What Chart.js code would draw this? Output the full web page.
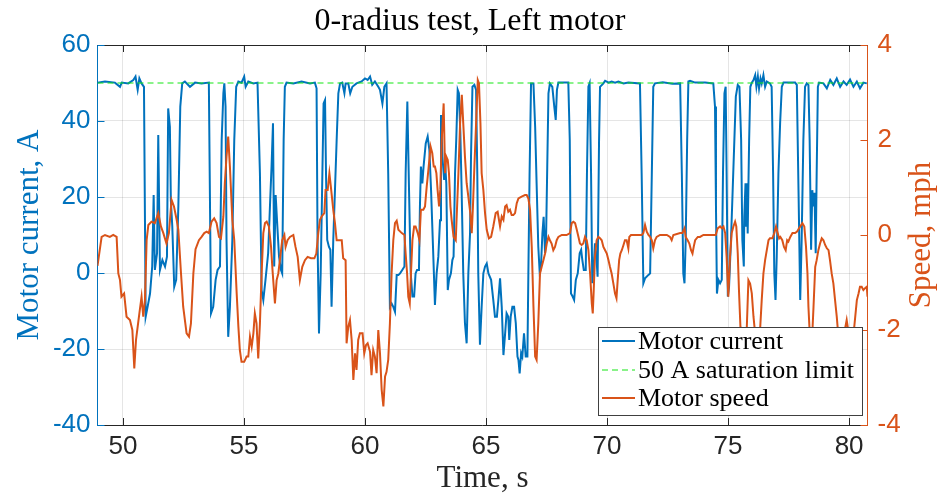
<!DOCTYPE html>
<html lang="en">
<head>
<meta charset="UTF-8">
<title>0-radius test, Left motor</title>
<script src="https://cdn.jsdelivr.net/npm/chart.js"></script>
<style>
  body { margin: 0; background: #fff; }
  canvas { display: block; }
</style>
</head>
<body>
<canvas id="grafico" width="940" height="497"></canvas>
<script>
// tick labels
const xTicks = [50, 55, 60, 65, 70, 75, 80];
const currentTicks = [-40, -20, 0, 20, 40, 60];
const speedTicks = [-4, -2, 0, 2, 4];

// 50 A saturation limit
const limitTime = [48.95, 80.76];
const limitLevel = [50, 50];

// motor current, A
const currentTime = [
  48.95, 49.26, 49.67, 49.88, 49.95, 50.22, 50.43, 50.52, 50.61, 50.68, 50.77, 50.87, 50.94, 51.02, 51.12, 51.21,
  51.27, 51.32, 51.41, 51.46, 51.53, 51.63, 51.74, 51.82, 51.87, 51.94, 51.98, 52.04, 52.12, 52.20, 52.29, 52.37,
  52.45, 52.56, 52.77, 52.98, 53.25, 53.55, 53.64, 53.73, 53.83, 53.91, 54.01, 54.08, 54.15, 54.19, 54.24, 54.28,
  54.35, 54.42, 54.52, 54.60, 54.68, 54.77, 54.90, 55.01, 55.07, 55.18, 55.39, 55.56, 55.66, 55.73, 55.80, 55.89,
  56.00, 56.09, 56.14, 56.20, 56.25, 56.31, 56.38, 56.45, 56.53, 56.58, 56.64, 56.69, 56.76, 57.04, 57.38, 57.73,
  57.93, 58.00, 58.04, 58.10, 58.17, 58.24, 58.29, 58.35, 58.39, 58.44, 58.51, 58.57, 58.62, 58.69, 58.76, 58.83,
  58.90, 58.97, 59.06, 59.15, 59.20, 59.31, 59.39, 59.48, 59.65, 59.86, 60.00, 60.11, 60.21, 60.30, 60.41, 60.55,
  60.62, 60.72, 60.80, 60.89, 60.96, 61.03, 61.10, 61.17, 61.24, 61.31, 61.38, 61.45, 61.54, 61.63, 61.68, 61.75,
  61.82, 61.89, 61.96, 62.03, 62.09, 62.15, 62.23, 62.27, 62.31, 62.37, 62.42, 62.51, 62.59, 62.66, 62.73, 62.81,
  62.89, 62.96, 63.03, 63.10, 63.14, 63.20, 63.27, 63.31, 63.36, 63.42, 63.47, 63.55, 63.61, 63.66, 63.72, 63.77,
  63.83, 63.88, 63.94, 63.99, 64.06, 64.13, 64.20, 64.27, 64.34, 64.38, 64.44, 64.52, 64.59, 64.64, 64.68, 64.75,
  64.82, 64.89, 64.96, 65.03, 65.10, 65.21, 65.30, 65.37, 65.45, 65.51, 65.58, 65.65, 65.72, 65.79, 65.85, 65.92,
  65.96, 66.02, 66.09, 66.16, 66.23, 66.30, 66.34, 66.39, 66.45, 66.50, 66.57, 66.64, 66.71, 66.75, 66.80, 66.86,
  66.96, 67.03, 67.09, 67.16, 67.22, 67.27, 67.33, 67.38, 67.44, 67.48, 67.53, 67.58, 67.64, 67.74, 67.82, 67.88,
  67.93, 67.99, 68.40, 68.46, 68.51, 68.58, 68.64, 68.71, 68.79, 68.87, 68.93, 68.98, 69.04, 69.12, 69.17, 69.23,
  69.28, 69.34, 69.39, 69.45, 69.50, 69.56, 69.61, 69.67, 69.71, 69.85, 69.92, 70.06, 70.19, 70.33, 70.47, 70.68,
  70.88, 71.36, 71.43, 71.50, 71.57, 71.71, 71.78, 71.85, 71.91, 71.98, 72.30, 72.70, 73.02, 73.09, 73.15, 73.20,
  73.25, 73.31, 73.36, 73.43, 73.64, 74.05, 74.39, 74.46, 74.50, 74.54, 74.60, 74.67, 74.74, 74.79, 74.85, 74.90,
  74.94, 74.99, 75.04, 75.12, 75.19, 75.26, 75.32, 75.40, 75.47, 75.54, 75.59, 75.65, 75.67, 75.72, 75.74, 75.78,
  75.81, 75.87, 75.92, 75.98, 76.05, 76.12, 76.17, 76.23, 76.28, 76.34, 76.39, 76.46, 76.53, 76.60, 76.73, 76.80,
  76.86, 76.91, 76.96, 77.01, 77.08, 77.15, 77.22, 77.29, 77.77, 77.84, 77.91, 77.98, 78.04, 78.11, 78.18, 78.25,
  78.32, 78.37, 78.43, 78.48, 78.53, 78.57, 78.62, 78.66, 78.71, 78.76, 78.94, 79.08, 79.22, 79.35, 79.49, 79.63,
  79.77, 79.90, 80.04, 80.18, 80.32, 80.45, 80.59, 80.73
];
const current = [
  50.1, 50.4, 50.1, 49.0, 50.1, 49.9, 50.8, 51.7, 48.2, 51.2, 49.9, 49.0, -11.5, -8.9, -5.4, 1.7,
  20.5, 0.8, 5.2, 36.3, 0.8, 3.4, 1.7, 4.3, 43.3, 38.5, 19.2, 12.2, -3.6, -1.8, 17.5, 43.8,
  49.9, 50.4, 49.0, 50.1, 49.9, 50.1, -10.6, -8.9, -1.8, 0.8, 1.7, 35.0, 47.3, 49.9, 43.8, 8.7,
  -16.8, -8.9, 8.7, 35.0, 49.0, 50.4, 50.1, 51.7, 49.0, 50.4, 49.9, 50.1, 26.2, -4.5, -7.1, -1.8,
  5.2, 20.1, 28.0, 39.4, 1.7, 20.5, 12.2, 4.3, 0.8, -0.1, 35.0, 49.0, 50.1, 49.9, 50.4, 49.9,
  50.1, 48.6, 8.7, -15.9, -0.1, 26.2, 44.6, 45.5, 26.2, 8.7, 6.9, 6.1, -8.9, 8.7, 21.8, 35.0,
  47.3, 49.9, 50.1, 47.3, 49.9, 49.9, 47.3, 49.0, 49.9, 50.4, 51.2, 50.8, 51.7, 49.5, 50.4, 49.0,
  48.2, 44.6, 49.0, 49.9, 26.2, -8.9, -8.0, -8.9, -10.2, -0.5, -0.5, -0.1, 0.8, 1.7, 26.2, 45.1,
  21.8, -0.1, -6.2, -6.2, -0.1, 0.8, 0.8, 17.5, 28.0, 23.6, 28.0, 34.1, 35.9, 32.4, 21.8, 6.9,
  -8.4, -0.1, 4.3, 13.9, 41.6, 30.6, 24.5, 28.9, 23.6, -4.5, -1.8, -0.1, 3.4, 4.3, 26.2, 35.0,
  48.2, 47.3, 36.8, 22.7, -0.1, -13.2, -18.5, -0.1, 10.4, 30.6, 49.0, 49.5, 48.2, 26.2, -0.1, -18.9,
  -8.9, -0.1, 1.7, 2.5, -0.1, -1.8, -7.1, -11.5, -11.5, -7.1, -1.4, -8.9, -21.6, -15.9, -10.6, -11.5,
  -17.6, -11.5, -8.9, -8.9, -13.2, -22.0, -22.9, -26.4, -21.1, -22.0, -15.9, -22.0, -22.0, -0.1, 26.2, 49.9,
  49.9, 38.5, 23.6, 6.9, -0.1, 1.7, 10.4, 14.8, 5.2, 8.7, 28.0, 47.3, 49.9, 49.0, 43.8, 40.3,
  48.2, 50.1, 50.1, 35.0, -5.4, -6.2, -7.1, -1.8, -0.1, 5.2, 6.1, 3.4, 0.8, 0.8, 26.2, 49.0,
  49.9, 26.2, -2.7, 1.7, 7.8, 4.3, -1.0, 35.0, 49.0, 49.9, 50.6, 50.1, 50.4, 50.1, 50.4, 49.9,
  50.1, 49.9, 26.2, -2.7, -1.4, -0.5, -0.1, 26.2, 49.0, 49.9, 50.2, 49.8, 49.9, 26.2, -0.1, -2.7,
  8.7, 35.0, 50.4, 50.6, 50.1, 50.1, 49.9, 43.8, 17.5, -5.4, -1.8, -2.7, -1.8, 26.2, 47.3, 49.0,
  26.2, -6.2, -3.6, 8.7, 21.8, 35.0, 46.4, 49.5, 49.0, 35.0, 8.7, 1.7, 14.8, 23.6, 12.2, 23.6,
  10.4, 35.0, 49.0, 50.1, 50.8, 52.1, 49.0, 51.7, 48.6, 51.2, 49.9, 52.1, 49.0, 50.4, 49.9, 49.0,
  26.2, -0.1, -7.1, 4.3, 26.2, 39.4, 49.0, 50.1, 50.1, 49.5, 21.8, -7.1, 8.7, 35.0, 49.0, 49.9,
  49.5, 35.0, 6.1, 21.8, 17.5, 21.1, 5.2, 26.2, 49.0, 50.1, 49.9, 48.6, 50.8, 49.5, 51.2, 49.0,
  50.4, 49.5, 50.9, 49.0, 50.4, 48.6, 50.1, 49.9
];

// motor speed, mph
const speedTime = [
  48.95, 49.12, 49.26, 49.46, 49.60, 49.74, 49.81, 49.88, 49.94, 50.05, 50.15, 50.29, 50.39, 50.47, 50.54, 50.61,
  50.68, 50.77, 50.84, 50.91, 50.98, 51.05, 51.18, 51.32, 51.46, 51.57, 51.67, 51.80, 51.90, 52.01, 52.11, 52.22,
  52.29, 52.40, 52.49, 52.63, 52.73, 52.81, 52.91, 53.00, 53.14, 53.25, 53.36, 53.46, 53.55, 53.66, 53.77, 53.87,
  53.97, 54.05, 54.15, 54.21, 54.28, 54.35, 54.42, 54.52, 54.60, 54.70, 54.77, 54.83, 54.90, 55.01, 55.11, 55.18,
  55.25, 55.32, 55.39, 55.45, 55.52, 55.59, 55.66, 55.73, 55.80, 55.87, 55.94, 56.03, 56.12, 56.18, 56.28, 56.35,
  56.42, 56.50, 56.58, 56.67, 56.72, 56.80, 56.90, 57.04, 57.13, 57.22, 57.31, 57.41, 57.52, 57.63, 57.77, 57.91,
  57.99, 58.07, 58.14, 58.21, 58.32, 58.37, 58.46, 58.53, 58.59, 58.69, 58.76, 58.83, 59.04, 59.10, 59.20, 59.24,
  59.31, 59.38, 59.45, 59.52, 59.59, 59.65, 59.72, 59.79, 59.90, 59.97, 60.04, 60.11, 60.21, 60.27, 60.34, 60.41,
  60.48, 60.55, 60.62, 60.69, 60.76, 60.83, 60.89, 60.96, 61.03, 61.10, 61.17, 61.24, 61.31, 61.38, 61.52, 61.63,
  61.68, 61.74, 61.79, 61.85, 61.90, 61.96, 62.03, 62.09, 62.18, 62.25, 62.31, 62.41, 62.48, 62.55, 62.62, 62.71,
  62.78, 62.84, 62.89, 62.95, 63.00, 63.06, 63.11, 63.17, 63.25, 63.31, 63.36, 63.42, 63.47, 63.53, 63.58, 63.66,
  63.75, 63.80, 63.86, 63.93, 64.00, 64.06, 64.13, 64.20, 64.27, 64.35, 64.41, 64.46, 64.52, 64.59, 64.66, 64.71,
  64.77, 64.82, 64.89, 64.96, 65.03, 65.12, 65.21, 65.30, 65.40, 65.48, 65.58, 65.65, 65.72, 65.79, 65.85, 65.92,
  65.99, 66.06, 66.13, 66.20, 66.27, 66.34, 66.47, 66.61, 66.68, 66.75, 66.82, 66.89, 66.96, 67.03, 67.09, 67.16,
  67.23, 67.30, 67.37, 67.44, 67.51, 67.58, 67.64, 67.71, 67.78, 67.85, 67.92, 67.99, 68.13, 68.33, 68.47, 68.54,
  68.61, 68.68, 68.75, 68.82, 68.88, 68.95, 69.02, 69.09, 69.16, 69.23, 69.30, 69.37, 69.41, 69.45, 69.50, 69.57,
  69.64, 69.71, 69.78, 69.85, 69.92, 69.99, 70.06, 70.12, 70.19, 70.26, 70.33, 70.39, 70.44, 70.50, 70.55, 70.61,
  70.68, 70.74, 70.81, 70.88, 70.92, 70.99, 71.23, 71.43, 71.50, 71.57, 71.64, 71.71, 71.78, 71.85, 71.91, 71.98,
  72.05, 72.19, 72.47, 72.60, 72.67, 72.74, 73.02, 73.11, 73.20, 73.25, 73.33, 73.40, 73.47, 73.53, 73.58, 73.64,
  73.75, 73.84, 73.98, 74.19, 74.39, 74.49, 74.57, 74.67, 74.74, 74.81, 74.88, 74.94, 75.01, 75.08, 75.15, 75.22,
  75.29, 75.34, 75.40, 75.45, 75.51, 75.58, 75.70, 75.77, 75.84, 75.91, 75.98, 76.05, 76.09, 76.18, 76.30, 76.39,
  76.46, 76.53, 76.60, 76.67, 76.73, 76.83, 76.91, 76.98, 77.05, 77.11, 77.16, 77.24, 77.31, 77.38, 77.44, 77.49,
  77.57, 77.66, 77.77, 77.85, 77.93, 77.98, 78.07, 78.15, 78.22, 78.28, 78.32, 78.36, 78.40, 78.46, 78.53, 78.60,
  78.66, 78.73, 78.80, 78.87, 78.94, 79.01, 79.08, 79.15, 79.21, 79.28, 79.35, 79.42, 79.49, 79.60, 79.75, 79.90,
  80.05, 80.20, 80.32, 80.39, 80.45, 80.52, 80.59, 80.66, 80.73, 80.76
];
const speed = [
  -0.65, -0.04, 0.00, -0.04, 0.00, -0.04, -0.81, -0.95, -1.30, -1.23, -1.72, -1.79, -2.00, -2.81, -2.21, -1.93,
  -1.65, -1.30, -1.72, -1.37, -0.11, 0.21, 0.28, 0.25, 0.46, 0.18, 0.04, -0.18, 0.04, 0.74, 0.60, 0.32,
  0.11, -0.81, -1.51, -2.07, -2.14, -1.86, -0.81, -0.30, -0.11, -0.04, 0.04, 0.07, 0.04, 0.28, 0.35, 0.25,
  -0.04, -0.07, 0.39, 1.09, 1.65, 2.07, 1.44, 0.32, -0.11, -1.23, -1.93, -2.42, -2.67, -2.67, -2.56, -2.56,
  -2.14, -2.35, -2.07, -1.65, -1.86, -2.60, -1.86, -0.81, 0.04, 0.25, 0.28, 0.18, -0.25, -0.74, -1.44, -0.95,
  -0.81, -0.46, -0.11, 0.00, -0.25, -0.11, -0.04, 0.00, -0.25, -0.46, -0.95, -0.67, -0.53, -0.46, -0.49, -0.49,
  -0.39, 0.04, 0.32, 0.39, 0.46, 0.95, 0.95, 1.30, 1.02, 0.53, 0.25, -0.11, -0.11, -0.49, -0.53, -2.28,
  -1.93, -1.79, -2.21, -3.05, -2.49, -2.84, -2.21, -2.07, -2.07, -2.49, -2.32, -2.28, -2.46, -2.95, -2.42, -2.56,
  -2.91, -2.00, -2.49, -3.26, -3.61, -2.98, -2.88, -2.63, -1.86, -0.81, -0.11, 0.25, 0.30, 0.11, 0.04, 0.00,
  -0.39, -0.81, -1.30, -1.44, -0.81, -0.11, 0.18, 0.18, 0.04, -0.11, 0.53, 0.53, 0.60, 1.02, 1.37, 1.86,
  1.72, 1.44, 1.44, 1.30, 0.95, 0.60, 0.95, 2.00, 2.77, 1.30, 1.65, 1.58, 1.30, 0.60, 0.32, -0.04,
  -0.11, 0.53, 1.30, 2.35, 2.95, 2.35, 1.65, 1.09, 0.81, 0.46, 0.04, 0.60, 1.44, 2.35, 3.26, 3.19,
  2.35, 1.30, 0.95, 0.46, 0.11, -0.07, -0.04, 0.18, 0.46, 0.49, 0.18, 0.39, 0.32, 0.60, 0.63, 0.49,
  0.53, 0.42, 0.42, 0.46, 0.67, 0.77, 0.81, 0.84, 0.84, 0.77, 0.53, -0.25, -1.51, -2.56, -2.63, -1.86,
  -0.81, -0.67, -0.53, -0.39, -0.18, -0.04, -0.11, -0.18, -0.32, -0.25, -0.11, -0.04, 0.00, 0.00, 0.04, 0.25,
  0.28, 0.25, 0.11, -0.04, -0.18, -0.21, -0.18, -0.04, -0.11, -0.32, -0.81, -1.44, -1.65, -1.16, -0.46, -0.11,
  -0.04, -0.07, -0.11, -0.25, -0.32, -0.39, -0.53, -0.67, -0.81, -1.02, -1.23, -1.33, -0.95, -0.53, -0.39, -0.32,
  -0.21, -0.11, -0.11, -0.28, -0.04, 0.00, 0.00, 0.00, 0.04, 0.21, 0.07, 0.00, -0.04, -0.11, -0.28, -0.11,
  -0.04, 0.00, 0.00, -0.04, -0.11, 0.00, 0.04, 0.04, 0.14, -0.04, -0.11, -0.18, -0.32, -0.39, -0.25, -0.11,
  -0.04, -0.04, 0.00, 0.00, 0.00, 0.00, 0.14, 0.18, 0.14, 0.18, 0.04, -0.46, -1.30, -0.46, 0.04, 0.18,
  0.28, 0.18, -0.39, -1.16, -1.93, -2.50, -2.30, -2.00, -0.95, -1.02, -1.23, -1.72, -1.93, -2.40, -2.20, -1.37,
  -0.81, -0.53, -0.32, -0.11, -0.07, -0.07, 0.04, 0.18, 0.04, -0.07, -0.04, -0.11, -0.25, -0.32, -0.11, -0.14,
  -0.04, 0.04, 0.04, 0.07, 0.14, 0.18, 0.25, 0.18, -0.25, -0.81, -1.51, -1.93, -2.50, -2.30, -1.51, -0.67,
  -0.53, -0.32, -0.18, -0.07, -0.11, -0.21, -0.28, -0.32, -0.53, -0.81, -1.02, -1.37, -1.72, -2.40, -2.20, -1.79,
  -2.30, -2.00, -1.37, -1.23, -1.09, -1.09, -1.16, -1.12, -1.09, -1.30
];

const azul = '#0072BD';
const laranja = '#D95319';
const cinza = '#262626';
const serif = '"Liberation Serif", "Times New Roman", serif';
const sans = '"Liberation Sans", Arial, sans-serif';

function pares(xs, ys) {
  return xs.map((x, i) => ({ x: x, y: ys[i] }));
}
function fixarTicks(valores) {
  return function(scale) {
    scale.ticks = valores.map(v => ({ value: v }));
  };
}

// box, inward tick marks, right axis title and legend
const extras = {
  id: 'extras',
  afterDatasetsDraw(chart) {
    const ctx = chart.ctx;
    const a = chart.chartArea;
    const sx = chart.scales.x, sy = chart.scales.y, sy1 = chart.scales.y1;
    ctx.save();
    ctx.lineWidth = 1;
    // top edge of the box
    ctx.strokeStyle = cinza;
    ctx.beginPath();
    ctx.moveTo(a.left, a.top + 0.5);
    ctx.lineTo(a.right, a.top + 0.5);
    ctx.stroke();
    // x ticks inward, bottom and top
    xTicks.forEach(v => {
      const px = Math.round(sx.getPixelForValue(v)) + 0.5;
      ctx.beginPath();
      ctx.moveTo(px, a.bottom); ctx.lineTo(px, a.bottom - 7);
      ctx.moveTo(px, a.top); ctx.lineTo(px, a.top + 7);
      ctx.stroke();
    });
    ctx.strokeStyle = azul;
    currentTicks.forEach(v => {
      const py = Math.round(sy.getPixelForValue(v)) + 0.5;
      ctx.beginPath();
      ctx.moveTo(a.left, py); ctx.lineTo(a.left + 7, py);
      ctx.stroke();
    });
    ctx.strokeStyle = laranja;
    speedTicks.forEach(v => {
      const py = Math.round(sy1.getPixelForValue(v)) + 0.5;
      ctx.beginPath();
      ctx.moveTo(a.right, py); ctx.lineTo(a.right - 7, py);
      ctx.stroke();
    });

    // right axis title, reading bottom to top
    ctx.fillStyle = laranja;
    ctx.font = '31px ' + serif;
    ctx.textAlign = 'center';
    ctx.textBaseline = 'middle';
    ctx.translate(922, (a.top + a.bottom) / 2);
    ctx.rotate(-Math.PI / 2);
    ctx.fillText('Speed, mph', 0, 0);
    ctx.restore();

    // legend inside the lower right corner
    const w = 264, h = 88;
    const x0 = a.right - 5.5 - w, y0 = a.bottom - 10 - h;
    ctx.save();
    ctx.fillStyle = '#fff';
    ctx.fillRect(x0, y0, w, h);
    ctx.strokeStyle = '#404040';
    ctx.lineWidth = 1;
    ctx.strokeRect(Math.round(x0) + 0.5, Math.round(y0) + 0.5, w, h);
    const itens = chart.data.datasets;
    const linhas = [14, 43, 71];
    ctx.font = '26px ' + serif;
    ctx.textAlign = 'left';
    ctx.textBaseline = 'middle';
    itens.forEach((ds, i) => {
      const yy = y0 + linhas[i];
      ctx.strokeStyle = ds.borderColor;
      ctx.lineWidth = ds.borderWidth;
      ctx.setLineDash(ds.borderDash || []);
      ctx.beginPath();
      ctx.moveTo(x0 + 4, yy);
      ctx.lineTo(x0 + 37, yy);
      ctx.stroke();
      ctx.setLineDash([]);
      ctx.fillStyle = '#000';
      ctx.fillText(ds.label, x0 + 40, yy + 1);
    });
    ctx.restore();
  }
};

new Chart(document.getElementById('grafico'), {
  type: 'line',
  data: {
    datasets: [
      {
        label: 'Motor current',
        data: pares(currentTime, current),
        borderColor: azul,
        borderWidth: 2,
        yAxisID: 'y',
        order: 2
      },
      {
        label: '50 A saturation limit',
        data: pares(limitTime, limitLevel),
        borderColor: '#14e614',
        borderWidth: 1,
        borderDash: [6, 4],
        yAxisID: 'y',
        order: 1
      },
      {
        label: 'Motor speed',
        data: pares(speedTime, speed),
        borderColor: laranja,
        borderWidth: 2,
        yAxisID: 'y1',
        order: 0
      }
    ]
  },
  options: {
    responsive: false,
    animation: false,
    elements: { point: { radius: 0 }, line: { tension: 0 } },
    layout: { padding: 0 },
    plugins: {
      legend: { display: false },
      tooltip: { enabled: false },
      title: {
        display: true,
        text: '0-radius test, Left motor',
        color: '#000',
        font: { family: serif, size: 32, weight: 'normal' },
        padding: { top: 2, bottom: 4.6 }
      }
    },
    scales: {
      x: {
        type: 'linear',
        min: 48.95,
        max: 80.76,
        afterBuildTicks: fixarTicks(xTicks),
        afterFit: s => { s.height = 72; },
        grid: { color: 'rgba(38,38,38,0.12)', drawTicks: false },
        border: { color: cinza },
        ticks: { color: cinza, padding: 6, font: { family: sans, size: 26 } },
        title: {
          display: true,
          text: 'Time, s',
          color: cinza,
          font: { family: serif, size: 31 },
          padding: { top: 0, bottom: 0 }
        }
      },
      y: {
        position: 'left',
        min: -40,
        max: 60,
        afterBuildTicks: fixarTicks(currentTicks),
        afterFit: s => { s.width = 97.5; },
        grid: { color: 'rgba(38,38,38,0.12)', drawTicks: false },
        border: { color: azul },
        ticks: { color: azul, padding: 7, font: { family: sans, size: 26 } },
        title: {
          display: true,
          text: 'Motor current, A',
          color: azul,
          font: { family: serif, size: 31 },
          padding: { top: 11, bottom: 0 }
        }
      },
      y1: {
        position: 'right',
        min: -4,
        max: 4,
        afterBuildTicks: fixarTicks(speedTicks),
        afterFit: s => { s.width = 72.5; },
        grid: { display: false, drawTicks: false },
        border: { color: laranja },
        ticks: { color: laranja, padding: 10, font: { family: sans, size: 26 } }
      }
    }
  },
  plugins: [extras]
});
</script>
</body>
</html>
